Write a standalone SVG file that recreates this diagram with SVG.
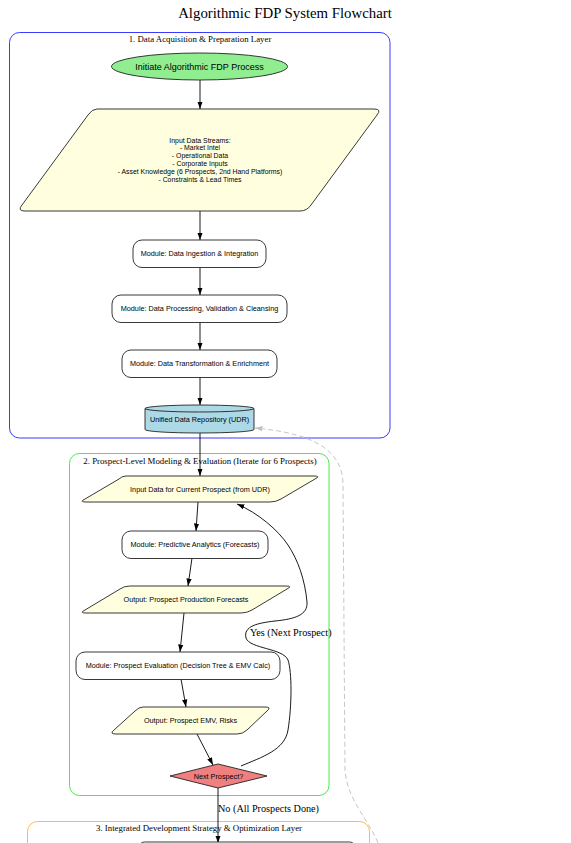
<svg xmlns="http://www.w3.org/2000/svg" width="571" height="843" viewBox="0 0 571 843">
<defs>
<style>
.title{font-family:"Liberation Serif",serif;font-size:14.8px;fill:#000}
.cl{font-family:"Liberation Serif",serif;font-size:8.8px;fill:#000}
.el{font-family:"Liberation Serif",serif;font-size:10.2px;fill:#000}
.t{font-family:"Liberation Sans",Arial,sans-serif;font-size:7.25px;fill:#000;text-anchor:middle}
.node{stroke:#222;stroke-width:0.9}
.box{fill:#fff}
.para{fill:#ffffe0}
.edge{fill:none;stroke:#000;stroke-width:0.9}
.dash{fill:none;stroke:#c0c0c0;stroke-width:0.9;stroke-dasharray:5,3}
</style>
<marker id="ah" viewBox="0 0 10 10" refX="10" refY="5" markerWidth="7.5" markerHeight="7.5" markerUnits="userSpaceOnUse" orient="auto">
<path d="M0,1.5 L10,5 L0,8.5 Z" fill="#000"/>
</marker>
<marker id="ahg" viewBox="0 0 10 10" refX="10" refY="5" markerWidth="7.5" markerHeight="7.5" markerUnits="userSpaceOnUse" orient="auto">
<path d="M0,1.5 L10,5 L0,8.5 Z" fill="#c0c0c0"/>
</marker>
</defs>
<rect width="571" height="843" fill="#fff"/>
<text class="title" x="285" y="18" text-anchor="middle">Algorithmic FDP System Flowchart</text>

<g id="cluster1">
<rect x="9.5" y="32.5" width="380.5" height="405.5" rx="10" fill="none" stroke="#3b3bff" stroke-width="1"/>
<text class="cl" x="200" y="42" text-anchor="middle">1. Data Acquisition &amp; Preparation Layer</text>
</g>
<g id="cluster2">
<rect x="69.5" y="453.5" width="259.5" height="342" rx="10" fill="none" stroke="#44ee44" stroke-width="1"/>
<text class="cl" x="200" y="464" text-anchor="middle">2. Prospect-Level Modeling &amp; Evaluation (Iterate for 6 Prospects)</text>
</g>
<g id="cluster3">
<rect x="27.5" y="821.5" width="342" height="60" rx="10" fill="none" stroke="#ffb84d" stroke-width="1"/>
<text class="cl" x="199" y="831" text-anchor="middle">3. Integrated Development Strategy &amp; Optimization Layer</text>
</g>

<g id="connectors">
<line class="edge" x1="200" y1="80" x2="200" y2="109" marker-end="url(#ah)"/>
<line class="edge" x1="200" y1="211" x2="200" y2="240" marker-end="url(#ah)"/>
<line class="edge" x1="200" y1="267" x2="200" y2="295" marker-end="url(#ah)"/>
<line class="edge" x1="200" y1="322" x2="200" y2="350" marker-end="url(#ah)"/>
<line class="edge" x1="200" y1="377" x2="200" y2="405" marker-end="url(#ah)"/>
<line class="edge" x1="200" y1="433" x2="200" y2="476" marker-end="url(#ah)"/>
<line class="edge" x1="198" y1="502" x2="196" y2="531" marker-end="url(#ah)"/>
<line class="edge" x1="192" y1="558" x2="188" y2="586" marker-end="url(#ah)"/>
<line class="edge" x1="184" y1="613" x2="180" y2="652" marker-end="url(#ah)"/>
<line class="edge" x1="181" y1="679" x2="186" y2="707" marker-end="url(#ah)"/>
<line class="edge" x1="197" y1="734" x2="213" y2="765" marker-end="url(#ah)"/>
<path class="edge" d="M241,766 C262,757 285,750 288,730 C292,705 292,672 288,660 C283,648 250,649 246,638 C243,626 258,623 275,621 C295,619 308,615 307,602 C305,580 298,560 288,545 C278,530 258,513 237,504" marker-end="url(#ah)"/>
<text class="el" x="250" y="636">Yes (Next Prospect)</text>
<line class="edge" x1="218" y1="788" x2="218" y2="843" marker-end="url(#ah)"/>
<text class="el" x="218" y="812">No (All Prospects Done)</text>
<path class="dash" d="M378,843 C369,820 347,800 345,770 L343,485 C343,455 322,434 255,428" marker-end="url(#ahg)"/>
</g>

<g id="n_start">
<ellipse class="node" cx="199.5" cy="66.5" rx="88" ry="13.5" fill="#90ee90"/>
<text class="t" x="199.5" y="69.8" style="font-size:9px">Initiate Algorithmic FDP Process</text>
</g>
<g id="n_input_streams">
<path class="node para" d="M97,109 L374,109 Q382,109 377,115 L311,205 Q307,211 300,211 L25,211 Q17,211 22,205 L88,115 Q92,109 97,109 Z"/>
<text class="t" x="200" y="142.5" style="font-size:6.9px">Input Data Streams:</text>
<text class="t" x="200" y="150.3" style="font-size:6.9px">- Market Intel</text>
<text class="t" x="200" y="158.1" style="font-size:6.9px">- Operational Data</text>
<text class="t" x="200" y="165.9" style="font-size:6.9px">- Corporate Inputs</text>
<text class="t" x="200" y="173.7" style="font-size:6.9px">- Asset Knowledge (6 Prospects, 2nd Hand Platforms)</text>
<text class="t" x="200" y="181.5" style="font-size:6.9px">- Constraints &amp; Lead Times</text>
</g>
<g id="n_ingest">
<rect class="node box" x="133" y="240" width="133" height="27.5" rx="9"/>
<text class="t" x="199.5" y="256.4">Module: Data Ingestion &amp; Integration</text>
</g>
<g id="n_process">
<rect class="node box" x="112" y="295" width="175" height="27.5" rx="9"/>
<text class="t" x="199.5" y="311.4">Module: Data Processing, Validation &amp; Cleansing</text>
</g>
<g id="n_transform">
<rect class="node box" x="122" y="350" width="155" height="27.5" rx="9"/>
<text class="t" x="199.5" y="366.4">Module: Data Transformation &amp; Enrichment</text>
</g>
<g id="n_udr">
<path class="node" d="M145,408.5 A54.5,3.5 0 0 1 254,408.5 V429.5 A54.5,3.5 0 0 1 145,429.5 Z" fill="#add8e6"/>
<path class="node" d="M145,408.5 A54.5,3.5 0 0 0 254,408.5" fill="none"/>
<text class="t" x="199.5" y="421.6">Unified Data Repository (UDR)</text>
</g>
<g id="n_input_prospect">
<path class="node para" d="M126,476 L314,476 Q321,476 315,479 L281,499 Q276,502 270,502 L86,502 Q79,502 85,499 L119,479 Q122,476 126,476 Z"/>
<text class="t" x="200" y="491.6">Input Data for Current Prospect (from UDR)</text>
</g>
<g id="n_predict">
<rect class="node box" x="122" y="531" width="146" height="27.5" rx="9"/>
<text class="t" x="195" y="547.4">Module: Predictive Analytics (Forecasts)</text>
</g>
<g id="n_out_forecast">
<path class="node para" d="M130,586 L286,586 Q293,586 287,589 L252,610 Q247,613 241,613 L86,613 Q79,613 85,610 L120,589 Q124,586 130,586 Z"/>
<text class="t" x="186" y="602.1">Output: Prospect Production Forecasts</text>
</g>
<g id="n_eval">
<rect class="node box" x="76" y="652" width="204" height="27.5" rx="9"/>
<text class="t" x="178" y="668.4">Module: Prospect Evaluation (Decision Tree &amp; EMV Calc)</text>
</g>
<g id="n_out_emv">
<path class="node para" d="M143,707 L265,707 Q272,707 267,711 L247,730 Q243,734 237,734 L116,734 Q109,734 114,730 L135,711 Q139,707 143,707 Z"/>
<text class="t" x="190.5" y="722.6">Output: Prospect EMV, Risks</text>
</g>
<g id="n_next">
<path class="node" d="M218,764 L267,776 L218,788 L170,776 Z" fill="#f08080"/>
<text class="t" x="218.5" y="778.6">Next Prospect?</text>
</g>
<g id="n_layer3_first">
<rect class="node box" x="138.5" y="842" width="217" height="30" rx="6" stroke="#555"/>
</g>
</svg>
